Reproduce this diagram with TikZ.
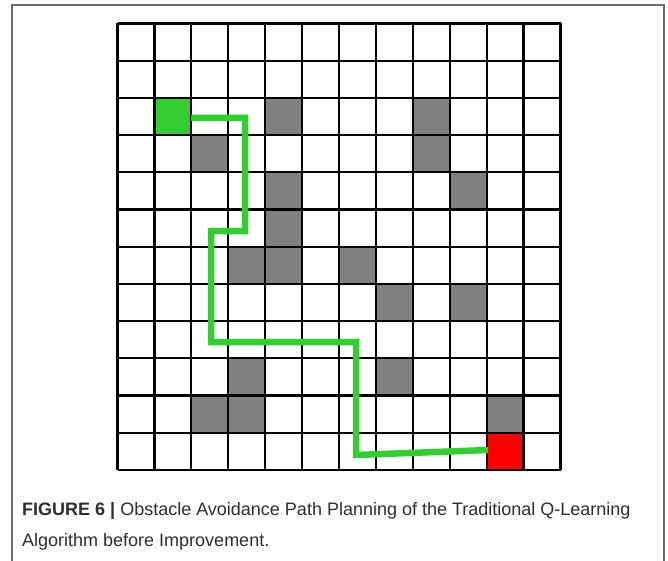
\documentclass[tikz,border=0pt]{standalone}
\usepackage{fontspec}
\setmainfont{Liberation Sans}
\definecolor{pathgreen}{RGB}{51,204,51}
\definecolor{obst}{RGB}{128,128,128}
\definecolor{goal}{RGB}{255,0,0}
\definecolor{framegray}{RGB}{110,110,110}
\definecolor{captext}{RGB}{45,45,45}
\newcommand\gcw{36.917}
\newcommand\gch{37.208}
\newcommand\ggx{117.5}
\newcommand\ggy{23.5}
\newcommand\cellfill[3]{\fill[#3] ({\ggx+#1*\gcw},{\ggy+#2*\gch}) rectangle ++(\gcw,\gch);}
\tikzset{
  gridline/.style={line width=2.2pt, black},
  framestyle/.style={line width=1.3pt, framegray},
  pathstyle/.style={line width=6.5pt, pathgreen, line join=miter},
  captionstyle/.style={anchor=west, inner sep=0pt, text=captext, font=\fontsize{18}{22}\selectfont}
}
\begin{document}
\begin{tikzpicture}[x=1pt,y=-1pt]
\useasboundingbox (0,0) rectangle (668,561);
% frame
\draw[framestyle] (12,565) -- (12,5) -- (664,5) -- (664,565);
% cells
\foreach \c/\r in {4/2,8/2,2/3,8/3,4/4,9/4,4/5,3/6,4/6,6/6,7/7,9/7,3/9,7/9,2/10,3/10,10/10}{
  \cellfill{\c}{\r}{obst}
}
\cellfill{1}{2}{pathgreen}
\cellfill{10}{11}{goal}
% grid
\foreach \i in {0,...,12}{
  \draw[gridline] ({\ggx+\i*\gcw},{\ggy}) -- ({\ggx+\i*\gcw},{\ggy+12*\gch});
  \draw[gridline] ({\ggx},{\ggy+\i*\gch}) -- ({\ggx+12*\gcw},{\ggy+\i*\gch});
}
% path
\coordinate (p0) at (191,118);
\coordinate (p1) at (245,118);
\coordinate (p2) at (245,231);
\coordinate (p3) at (211,231);
\coordinate (p4) at (211,342);
\coordinate (p5) at (356,342);
\coordinate (p6) at (356,455);
\coordinate (p7) at (488,450);
\draw[pathstyle] (p0) -- (p1) -- (p2) -- (p3) -- (p4) -- (p5) -- (p6) -- (p7);
% caption
\node[captionstyle] (cap1) at (22,511) {\textbf{FIGURE 6 |} Obstacle Avoidance Path Planning of the Traditional Q-Learning};
\node[captionstyle] (cap2) at (22,542) {Algorithm before Improvement.};
\end{tikzpicture}
\end{document}
